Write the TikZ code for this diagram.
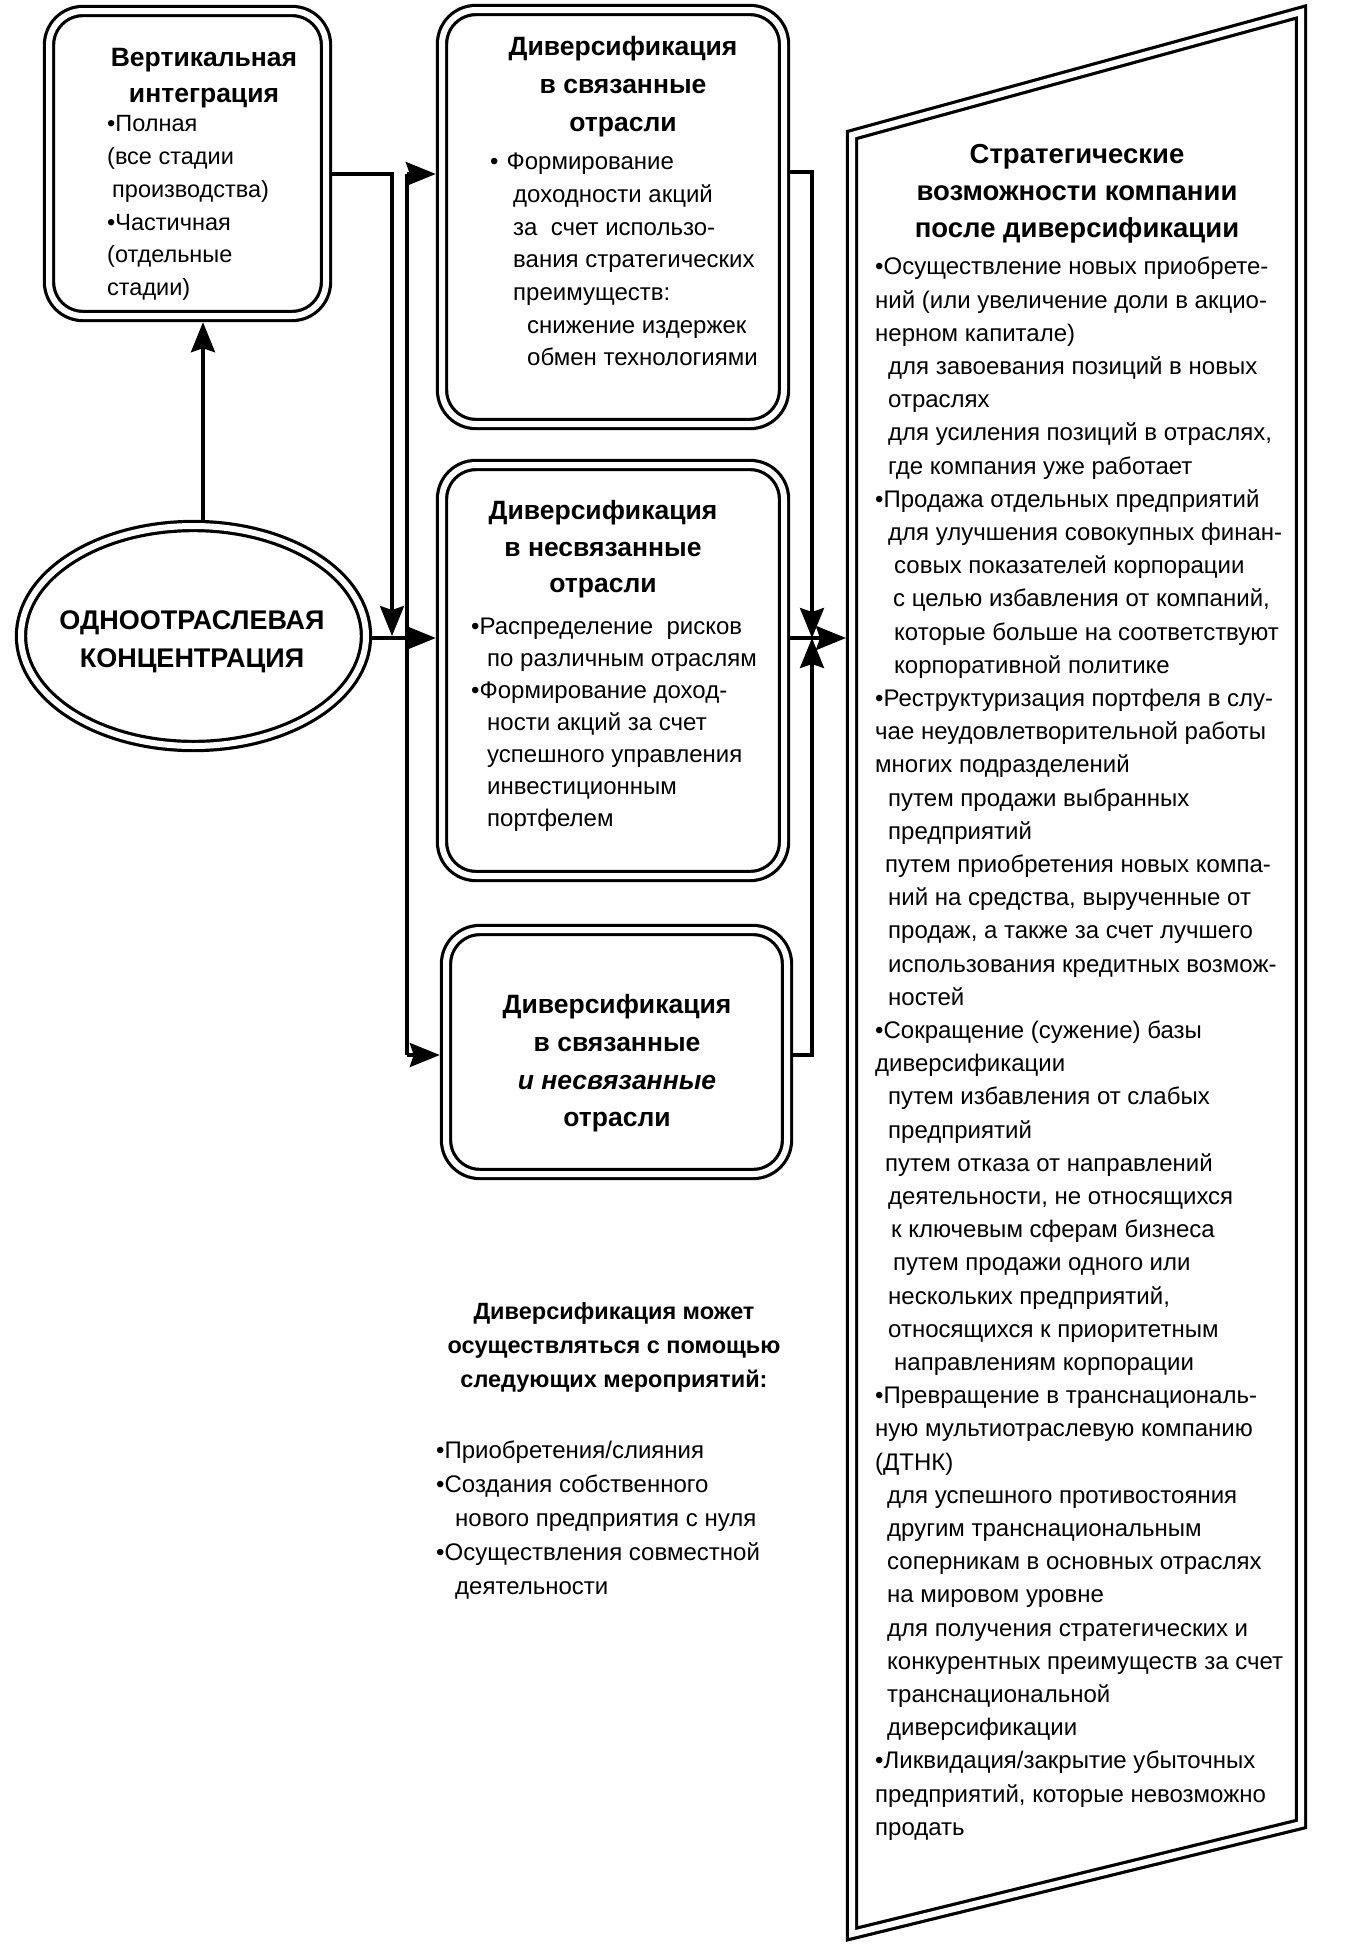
\documentclass[tikz,border=0pt]{standalone}
\usepackage{fontspec}
\setmainfont{Liberation Sans}
\usetikzlibrary{arrows.meta,shapes.geometric}
\begin{document}
\begin{tikzpicture}[x=1pt,y=-1pt,
  dbox/.style={draw, rectangle, rounded corners=34pt, line width=3.2pt, double, double distance=6pt, inner sep=0pt, outer sep=6.2pt},
  dell/.style={draw, ellipse, line width=3.2pt, double, double distance=6pt, inner sep=0pt, outer sep=6.2pt},
  dline/.style={line width=3.2pt, double, double distance=6pt, line join=miter},
  conn/.style={line width=3.5pt},
  arr/.style={conn, -{Stealth[length=30pt,width=24pt,inset=4pt]}},
  ttl/.style={align=center, inner sep=0pt, anchor=north},
  body/.style={align=left, inner sep=0pt, anchor=north west},
]
\useasboundingbox (0,0) rectangle (1360,1944);

% boxes
\node[dbox, minimum width=277pt, minimum height=305pt] (box1) at (187.5,163.5) {};
\node[dbox, minimum width=342pt, minimum height=414pt] (box2) at (613,217) {};
\node[dbox, minimum width=342pt, minimum height=411pt] (box3) at (613,670.5) {};
\node[dbox, minimum width=341pt, minimum height=244pt] (box4) at (616.5,1052) {};
\node[dell, minimum width=345pt, minimum height=220pt] (ell) at (193.5,636) {};

% strategic sheet
\draw[dline] (852,135) -- (1301,12) -- (1301,1824) -- (852,1934) -- cycle;
\coordinate (sl) at (846,638);

% texts box1
\node[ttl, font=\fontsize{26.5}{36}\selectfont\bfseries] (t1) at (204,41.3)
  {\strut Вертикальная\\интеграция};
\node[body, font=\fontsize{23.5}{32.8}\selectfont] (b1) at (107,108.6)
  {\strut•Полная\\(все стадии\\\hspace*{5pt}производства)\\•Частичная\\(отдельные\\стадии)};

% texts box2
\node[ttl, font=\fontsize{26.5}{38}\selectfont\bfseries] (t2) at (623,28.9)
  {\strut Диверсификация\\в связанные\\отрасли};
\node[body, font=\fontsize{24}{32.7}\selectfont] (b2) at (490,146.7)
  {\strut•\hspace{8pt}Формирование\\\hspace*{23pt}доходности акций\\\hspace*{23pt}за\ \ счет использо-\\\hspace*{23pt}вания стратегических\\\hspace*{23pt}преимуществ:\\\hspace*{37pt}снижение издержек\\\hspace*{37pt}обмен технологиями};

% texts box3
\node[ttl, font=\fontsize{26.5}{36.5}\selectfont\bfseries] (t3) at (603,493.9)
  {\strut Диверсификация\\в несвязанные\\отрасли};
\node[body, font=\fontsize{24}{32}\selectfont] (b3) at (471,612.2)
  {\strut•Распределение\ \ рисков\\\hspace*{16pt}по различным отраслям\\•Формирование доход-\\\hspace*{16pt}ности акций за счет\\\hspace*{16pt}успешного управления\\\hspace*{16pt}инвестиционным\\\hspace*{16pt}портфелем};

% texts box4
\node[ttl, font=\fontsize{26.5}{37.7}\selectfont\bfseries] (t4) at (617,987.1)
  {\strut Диверсификация\\в связанные\\\textit{и несвязанные}\\отрасли};

% ellipse text
\node[ttl, font=\fontsize{27}{38}\selectfont\bfseries] (te) at (192,603.1)
  {\strut ОДНООТРАСЛЕВАЯ\\КОНЦЕНТРАЦИЯ};

% strategic sheet text
\node[ttl, font=\fontsize{27.5}{37}\selectfont\bfseries] (ts) at (1077,137.6)
  {\strut Стратегические\\возможности компании\\после диверсификации};
\node[body, font=\fontsize{24}{33.2}\selectfont] (bs) at (875,251.4)
  {\strut•Осуществление новых приобрете-\\
ний (или увеличение доли в акцио-\\
нерном капитале)\\
\hspace*{13pt}для завоевания позиций в новых\\
\hspace*{13pt}отраслях\\
\hspace*{13pt}для усиления позиций в отраслях,\\
\hspace*{13pt}где компания уже работает\\
•Продажа отдельных предприятий\\
\hspace*{13pt}для улучшения совокупных финан-\\
\hspace*{19pt}совых показателей корпорации\\
\hspace*{18pt}с целью избавления от компаний,\\
\hspace*{19pt}которые больше на соответствуют\\
\hspace*{19pt}корпоративной политике\\
•Реструктуризация портфеля в слу-\\
чае неудовлетворительной работы\\
многих подразделений\\
\hspace*{13pt}путем продажи выбранных\\
\hspace*{13pt}предприятий\\
\hspace*{10pt}путем приобретения новых компа-\\
\hspace*{13pt}ний на средства, вырученные от\\
\hspace*{13pt}продаж, а также за счет лучшего\\
\hspace*{13pt}использования кредитных возмож-\\
\hspace*{13pt}ностей\\
•Сокращение (сужение) базы\\
диверсификации\\
\hspace*{13pt}путем избавления от слабых\\
\hspace*{13pt}предприятий\\
\hspace*{10pt}путем отказа от направлений\\
\hspace*{13pt}деятельности, не относящихся\\
\hspace*{16pt}к ключевым сферам бизнеса\\
\hspace*{18pt}путем продажи одного или\\
\hspace*{13pt}нескольких предприятий,\\
\hspace*{13pt}относящихся к приоритетным\\
\hspace*{19pt}направлениям корпорации\\
•Превращение в транснациональ-\\
ную мультиотраслевую компанию\\
(ДТНК)\\
\hspace*{12pt}для успешного противостояния\\
\hspace*{12pt}другим транснациональным\\
\hspace*{12pt}соперникам в основных отраслях\\
\hspace*{12pt}на мировом уровне\\
\hspace*{12pt}для получения стратегических и\\
\hspace*{12pt}конкурентных преимуществ за счет\\
\hspace*{12pt}транснациональной\\
\hspace*{12pt}диверсификации\\
•Ликвидация/закрытие убыточных\\
предприятий, которые невозможно\\
продать};

% bottom-left text
\node[ttl, font=\fontsize{23.5}{34}\selectfont\bfseries] (tm) at (614,1295.8)
  {\strut Диверсификация может\\осуществляться с помощью\\следующих мероприятий:};
\node[body, font=\fontsize{24}{34}\selectfont] (bm) at (436,1434.8)
  {\strut•Приобретения/слияния\\•Создания собственного\\\hspace*{19pt}нового предприятия с нуля\\•Осуществления совместной\\\hspace*{19pt}деятельности};

% connector rows / columns
\coordinate (ya) at (0,174);
\coordinate (yd) at (0,172);
\coordinate (yb) at (0,638);
\coordinate (yc) at (0,1055);
\coordinate (xa) at (392,0);
\coordinate (xb) at (407,0);
\coordinate (xc) at (812,0);
\coordinate (xe) at (203,0);

\draw[arr] (xe |- ell.north) -- (xe |- box1.south);
\draw[arr] (box1.east |- ya) -- (xa |- ya) -- ([yshift=2pt]xa |- yb);
\draw[conn] (xb |- ya) -- (xb |- yc);
\draw[arr] (xb |- ya) -- (box2.west |- ya);
\draw[arr] (ell.east |- yb) -- (box3.west |- yb);
\draw[arr] (xb |- yc) -- (box4.west |- yc);
\draw[arr] (box2.east |- yd) -- (xc |- yd) -- (xc |- yb);
\draw[arr] (box4.east |- yc) -- (xc |- yc) -- (xc |- yb);
\draw[arr] (box3.east |- yb) -- (sl);
\end{tikzpicture}
\end{document}
